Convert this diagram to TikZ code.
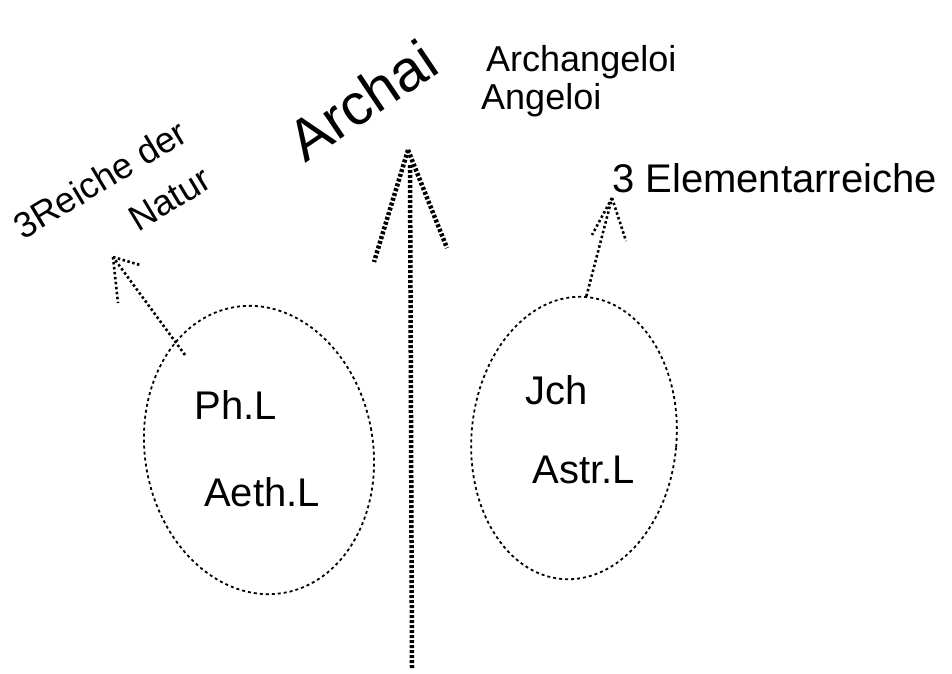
\documentclass[tikz,border=0pt]{standalone}
\usepackage{fontspec}
\setmainfont{Liberation Sans}
\usetikzlibrary{shapes.geometric}
\begin{document}
\begin{tikzpicture}[x=1pt,y=1pt,
  hatch/.style={line width=2.6pt,dash pattern=on 2.5pt off 2.5pt},
  boldhatch/.style={line width=4.5pt,dash pattern=on 3pt off 2pt},
  loop/.style={ellipse,draw,line width=1.8pt,dash pattern=on 3pt off 3pt,inner sep=0pt},
  lbl/.style={font=\fontsize{40}{44}\selectfont,inner sep=0pt}]
\useasboundingbox (0,0) rectangle (952,673);
% ellipses
\node[loop,minimum width=228,minimum height=290,rotate=10] (L) at (259,223) {};
\node[loop,minimum width=205,minimum height=283,rotate=-5] (R) at (574,235) {};
% texts
\node[lbl] (phl) at (236,268) {Ph.L};
\node[lbl] (ael) at (262,181) {Aeth.L};
\node[lbl] (ich) at (557,283) {Jch};
\node[lbl] (asl) at (584,203) {Astr.L};
\node[lbl,font=\fontsize{58}{60}\selectfont,rotate=34] (archai) at (362,573) {Archai};
\node[lbl,font=\fontsize{36}{40}\selectfont,anchor=west] (archang) at (486,611) {Archangeloi};
\node[lbl,font=\fontsize{36}{40}\selectfont,anchor=west] (angel) at (481,573) {Angeloi};
\node[lbl,font=\fontsize{40}{44}\selectfont,anchor=west] (elem) at (612,495) {3 Elementarreiche};
\node[lbl,font=\fontsize{36}{40}\selectfont,rotate=31] (reiche) at (100,494) {3Reiche der};
\node[lbl,font=\fontsize{36}{40}\selectfont,rotate=31] (natur) at (170,474) {Natur};
% main arrow
\coordinate (mbot) at (412,5);
\coordinate (mtop) at (410,508);
\coordinate (mtip) at (408,523);
\draw[boldhatch] (mbot) -- (mtop);
\draw[boldhatch] (mtip) -- (374,411);
\draw[boldhatch] (mtip) -- (447,425);
% left arrow
\coordinate (lbase) at (185,318);
\coordinate (ltip) at (113,416);
\draw[hatch] (lbase) -- (ltip);
\draw[hatch] (ltip) -- (118,370);
\draw[hatch] (ltip) -- (140,408);
% right arrow
\coordinate (rtip) at (612,475);
\draw[hatch] (R.north) -- (rtip);
\draw[hatch] (rtip) -- (592,438);
\draw[hatch] (rtip) -- (626,432);
\end{tikzpicture}
\end{document}
